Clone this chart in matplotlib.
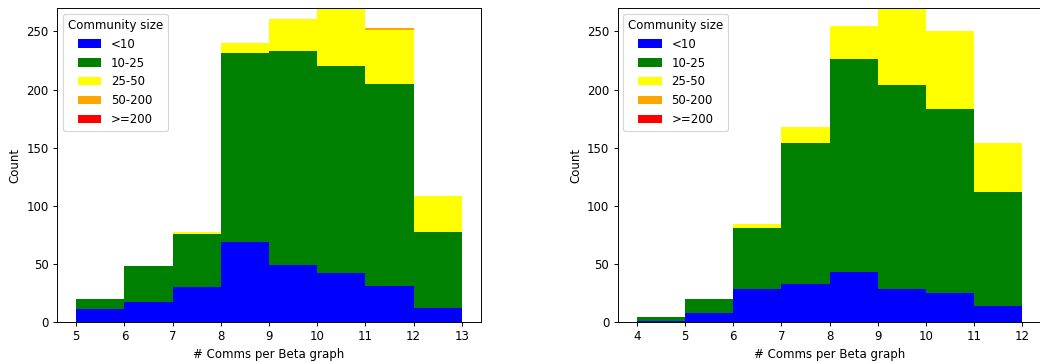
import matplotlib
matplotlib.use("Agg")
import matplotlib.pyplot as plt
import numpy as np

# community-size classes and their colours
size_labels = ['<10', '10-25', '25-50', '50-200', '>=200']
size_colors = ['blue', 'green', 'yellow', 'orange', 'red']

# left panel: one count per bin (bins 5..12, width 1)
left_bins = [5, 6, 7, 8, 9, 10, 11, 12]
left_lt10 = [11, 17, 30, 69, 49, 42, 31, 12]
left_10_25 = [9, 31, 46, 162, 184, 178, 174, 65]
left_25_50 = [0, 0, 1, 9, 28, 65, 46, 31]
left_50_200 = [0, 0, 0, 0, 0, 0, 2, 0]
left_ge200 = [0, 0, 0, 0, 0, 0, 0, 0]

# right panel (bins 4..11)
right_bins = [4, 5, 6, 7, 8, 9, 10, 11]
right_lt10 = [1, 8, 28, 33, 43, 28, 25, 14]
right_10_25 = [3, 12, 53, 121, 183, 176, 158, 98]
right_25_50 = [0, 0, 3, 14, 29, 75, 67, 42]
right_50_200 = [0, 0, 0, 0, 0, 0, 0, 0]
right_ge200 = [0, 0, 0, 0, 0, 0, 0, 0]


def draw_panel(ax, bins, series):
    #each series becomes a weighted histogram, stacked on top of each other
    edges = np.arange(bins[0], bins[-1] + 2)
    xs = [np.array(bins) + 0.5 for _ in series]
    ax.hist(xs, bins=edges, weights=series, stacked=True,
            histtype='stepfilled', color=size_colors, label=size_labels)
    ax.set_ylim(0, 270)
    ax.set_xticks(edges)
    ax.set_yticks([0, 50, 100, 150, 200, 250])
    ax.set_xlabel('# Comms per Beta graph')
    ax.set_ylabel('Count')
    # hist puts the stacked legend upside down, flip it back
    handles, labels = ax.get_legend_handles_labels()
    ax.legend(handles[::-1], labels[::-1], title='Community size', loc='upper left')


DPI = 85
fig = plt.figure(figsize=(1040 / DPI, 362 / DPI), dpi=DPI)
ax1 = fig.add_axes([0.0548, 0.1105, 0.4077, 0.867])
ax2 = fig.add_axes([0.5938, 0.1105, 0.4077, 0.867])

draw_panel(ax1, left_bins, [left_lt10, left_10_25, left_25_50, left_50_200, left_ge200])
draw_panel(ax2, right_bins, [right_lt10, right_10_25, right_25_50, right_50_200, right_ge200])

fig.savefig('out.png', dpi=DPI)
